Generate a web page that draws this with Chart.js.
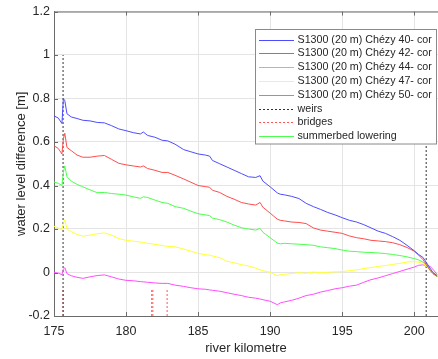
<!DOCTYPE html>
<html><head><meta charset="utf-8">
<script src="https://cdn.jsdelivr.net/npm/chart.js@4.4.1/dist/chart.umd.min.js"></script>
<style>html,body{margin:0;padding:0;background:#fff;}canvas{display:block;}</style>
</head><body>
<canvas id="c" width="438" height="359"></canvas>
<script>
const km = [175.0,175.3,175.55,175.65,175.75,175.9,176.2,176.6,177.0,177.5,178.0,178.5,179.0,179.5,180.0,180.5,181.0,181.2,181.5,182.0,182.5,182.9,183.4,184.0,184.5,185.0,185.5,185.8,186.0,186.5,187.0,187.5,188.0,188.5,189.0,189.3,189.5,190.0,190.5,190.7,191.0,191.5,192.0,192.5,193.0,193.5,194.0,194.5,195.0,195.5,196.0,196.5,197.0,197.5,198.0,198.5,199.0,199.5,200.0,200.3,200.6,200.85,201.1,201.3,201.6];
const chezy40 = [0.72,0.71,0.685,0.80,0.79,0.73,0.715,0.708,0.70,0.697,0.69,0.688,0.675,0.66,0.652,0.643,0.637,0.646,0.63,0.622,0.608,0.605,0.59,0.565,0.555,0.545,0.54,0.535,0.515,0.50,0.485,0.47,0.455,0.44,0.437,0.445,0.42,0.394,0.366,0.36,0.357,0.35,0.34,0.318,0.303,0.29,0.276,0.265,0.252,0.24,0.232,0.22,0.205,0.19,0.18,0.165,0.148,0.125,0.10,0.083,0.07,0.045,0.02,0.0,-0.015];
const chezy42 = [0.583,0.57,0.545,0.615,0.64,0.575,0.56,0.54,0.53,0.53,0.535,0.538,0.52,0.502,0.495,0.49,0.485,0.49,0.478,0.47,0.46,0.46,0.447,0.43,0.415,0.40,0.395,0.392,0.378,0.368,0.35,0.337,0.322,0.315,0.31,0.322,0.30,0.273,0.245,0.24,0.237,0.232,0.23,0.225,0.205,0.195,0.19,0.185,0.18,0.168,0.16,0.155,0.148,0.145,0.142,0.137,0.128,0.115,0.098,0.08,0.06,0.035,0.01,-0.005,-0.018];
const chezy44 = [0.416,0.41,0.40,0.46,0.49,0.44,0.42,0.405,0.394,0.38,0.367,0.368,0.363,0.36,0.356,0.348,0.341,0.348,0.345,0.333,0.322,0.318,0.303,0.295,0.282,0.27,0.265,0.262,0.25,0.243,0.232,0.218,0.206,0.20,0.195,0.203,0.185,0.16,0.135,0.132,0.134,0.132,0.13,0.128,0.125,0.118,0.114,0.11,0.103,0.098,0.096,0.093,0.092,0.09,0.087,0.083,0.078,0.072,0.064,0.058,0.048,0.035,0.012,-0.005,-0.02];
const chezy47 = [0.212,0.205,0.195,0.225,0.242,0.20,0.188,0.175,0.167,0.172,0.178,0.182,0.172,0.156,0.148,0.144,0.14,0.138,0.134,0.13,0.124,0.12,0.118,0.108,0.098,0.088,0.082,0.08,0.076,0.068,0.052,0.045,0.036,0.03,0.02,0.012,0.008,0.001,-0.015,-0.01,-0.008,-0.005,-0.001,-0.004,0.002,0.0,0.001,0.003,0.004,0.008,0.012,0.018,0.023,0.028,0.032,0.037,0.042,0.048,0.05,0.047,0.042,0.03,0.01,-0.005,-0.012];
const chezy50 = [0.0,-0.003,-0.01,0.015,0.022,-0.005,-0.015,-0.022,-0.027,-0.02,-0.014,-0.011,-0.02,-0.03,-0.036,-0.038,-0.042,-0.043,-0.045,-0.048,-0.05,-0.05,-0.058,-0.064,-0.07,-0.075,-0.077,-0.08,-0.082,-0.086,-0.093,-0.10,-0.106,-0.114,-0.118,-0.122,-0.125,-0.132,-0.148,-0.14,-0.135,-0.128,-0.118,-0.106,-0.10,-0.09,-0.083,-0.075,-0.07,-0.063,-0.058,-0.045,-0.033,-0.025,-0.015,-0.005,0.005,0.015,0.025,0.033,0.035,0.033,0.028,0.015,-0.01];
const seriesLabels = ["S1300 (20 m) Chézy 40- cor","S1300 (20 m) Chézy 42- cor","S1300 (20 m) Chézy 44- cor","S1300 (20 m) Chézy 47- cor","S1300 (20 m) Chézy 50- cor"];
const extraLabels = ["weirs","bridges","summerbed lowering"];
const weirKm = [175.63, 200.83];
const weirRange = [-0.2, 1.0];
const bridgeKm = [175.63, 181.78, 181.86, 182.85];
const bridgeRange = [-0.2, -0.08];
const xTicks = [175,180,185,190,195,200];
const yTicks = [-0.2,0,0.2,0.4,0.6,0.8,1,1.2];

const seriesColors = ['#4d4dff','#ff4d4d','#4dff4d','#ffff33','#ff4dff'];
const extraColors = ['#333333','#ff5555','#4dff4d'];
const extraDashed = [true,true,false];
const axisColor = '#6b6b6b';
const textColor = '#262626';
const FONT = "'Liberation Sans', Arial, sans-serif";

function toXY(vals){ return km.map((x,i)=>({x:x,y:vals[i]})); }
function vSegments(xs, range){
  const out=[];
  xs.forEach(k=>{ out.push({x:k,y:range[0]},{x:k,y:range[1]},{x:k,y:null}); });
  return out;
}
const seriesVals = [chezy40,chezy42,chezy44,chezy47,chezy50];
const datasets = seriesVals.map((v,i)=>({
  label: seriesLabels[i], data: toXY(v), borderColor: seriesColors[i],
  borderWidth: 1, pointRadius: 0, tension: 0, fill:false
}));
datasets.push({label: extraLabels[0], data: vSegments(weirKm, weirRange), borderColor:extraColors[0], borderDash:[2,2], borderWidth:1, pointRadius:0, spanGaps:false});
datasets.push({label: extraLabels[1], data: vSegments(bridgeKm, bridgeRange), borderColor:extraColors[1], borderDash:[2,2], borderWidth:1, pointRadius:0, spanGaps:false});
datasets.push({label: extraLabels[2], data: [], borderColor:extraColors[2], borderWidth:1, pointRadius:0});

const legendLabels = seriesLabels.concat(extraLabels);
const legendColors = seriesColors.concat(extraColors);
const legendDashes = [false,false,false,false,false].concat(extraDashed);

const framePlugin = {
  id:'frame',
  afterDraw(chart){
    const {ctx, chartArea:a, scales:{x,y}} = chart;
    ctx.save();
    ctx.setLineDash([]);
    ctx.strokeStyle = axisColor; ctx.lineWidth = 1;
    ctx.beginPath();
    ctx.moveTo(a.left, a.top+0.5); ctx.lineTo(a.right, a.top+0.5);
    xTicks.forEach(v=>{
      const px = Math.round(x.getPixelForValue(v))+0.5;
      ctx.moveTo(px, a.bottom); ctx.lineTo(px, a.bottom-4);
      ctx.moveTo(px, a.top); ctx.lineTo(px, a.top+4);
    });
    yTicks.forEach(v=>{
      const py = Math.round(y.getPixelForValue(v))+0.5;
      ctx.moveTo(a.left, py); ctx.lineTo(a.left+4, py);
    });
    ctx.stroke();

    // legend box
    const bx = 255.5, by = 29.5, bw = 181, bh = 114.5;
    ctx.fillStyle = '#ffffff';
    ctx.fillRect(bx, by, bw, bh);
    ctx.strokeStyle = '#8a8a8a';
    ctx.strokeRect(bx, by, bw, bh);
    ctx.font = '10.7px ' + FONT;
    ctx.textBaseline = 'middle';
    ctx.textAlign = 'left';
    legendLabels.forEach((lab,i)=>{
      const cy = Math.round(39.5 + i*13.8);
      ctx.fillStyle = legendColors[i];
      if (legendDashes[i]) {
        for (let xx = 259; xx < 294; xx += 4) ctx.fillRect(xx, cy, 2, 1);
      } else {
        ctx.fillRect(259, cy, 35, 1);
      }
      ctx.fillStyle = textColor;
      ctx.fillText(lab, 297.5, cy + 0.5);
    });
    ctx.restore();
  }
};

new Chart(document.getElementById('c'), {
  type:'line',
  data:{datasets: datasets},
  options:{
    responsive:false, animation:false, devicePixelRatio:1,
    layout:{padding:{top:10,right:0,left:0,bottom:0}},
    plugins:{legend:{display:false}, tooltip:{enabled:false}},
    scales:{
      x:{type:'linear', min:175, max:201.65,
        afterBuildTicks: s=>{ s.ticks = xTicks.map(v=>({value:v})); },
        afterFit: s=>{ s.height = 43; },
        grid:{color:'#e4e4e4', drawTicks:false},
        border:{display:true, color:axisColor},
        ticks:{padding:8, color:textColor, font:{family:FONT, size:12.5}, maxRotation:0, callback:v=>String(v)},
        title:{display:true, text:'river kilometre', color:textColor, font:{family:FONT, size:13}, padding:{top:0,bottom:3}}
      },
      y:{type:'linear', min:-0.2, max:1.2,
        afterBuildTicks: s=>{ s.ticks = yTicks.map(v=>({value:v})); },
        afterFit: s=>{ s.width = 54; },
        grid:{color:'#e4e4e4', drawTicks:false},
        border:{display:true, color:axisColor},
        ticks:{padding:4, color:textColor, font:{family:FONT, size:12.5}, callback:v=>String(Math.round(v*10)/10)},
        title:{display:true, text:'water level difference [m]', color:textColor, font:{family:FONT, size:13}, padding:{top:14,bottom:0}}
      }
    }
  },
  plugins:[framePlugin]
});
</script>
</body></html>
